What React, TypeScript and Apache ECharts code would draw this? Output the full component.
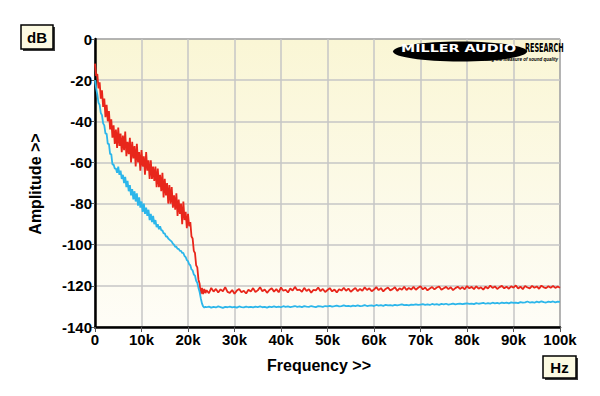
import React, { useEffect, useRef } from "react";
import * as echarts from "echarts";

// Frequency grid (Hz): dense steps below 24 kHz, coarser steps for the noise floor
const HEAD_STEP_HZ = 250;
const TAIL_START_HZ = 24000;
const TAIL_STEP_HZ = 500;

// Red trace, 0 – 23.75 kHz every 0.25 kHz (dB)
const redHead = [
  -12, -18, -17, -24, -21, -29, -25, -33,
  -29, -38, -32, -40, -35, -44, -39, -48,
  -42, -51, -44, -53, -43, -52, -46, -55,
  -47, -54, -45, -57, -50, -56, -48, -60,
  -50, -58, -52, -62, -51, -60, -55, -64,
  -54, -62, -57, -66, -55, -64, -59, -68,
  -59, -68, -62, -69, -62, -72, -63, -72,
  -66, -74, -65, -77, -68, -76, -70, -80,
  -71, -80, -72, -82, -76, -83, -75, -86,
  -78, -85, -80, -90, -79, -88, -84, -92,
  -85, -91, -89, -96, -97, -103, -104, -110,
  -111, -117, -119, -124, -121, -124, -121.5, -123.5,
];

// Red trace, 24 – 100 kHz every 0.5 kHz (dB)
const redTail = [
  -122.1, -123.6, -121.0, -122.8, -121.5, -123.2, -121.7, -122.6, -120.6, -122.9,
  -123.4, -122.0, -123.8, -122.3, -121.5, -123.1, -122.4, -123.7, -121.9, -122.7,
  -121.1, -123.0, -122.2, -120.7, -122.6, -121.8, -123.4, -122.0, -121.2, -122.8,
  -121.6, -123.1, -120.8, -122.4, -121.9, -123.2, -121.3, -122.3, -120.5, -122.1,
  -121.8, -122.9, -121.0, -122.5, -121.6, -123.3, -121.9, -122.2, -120.8, -122.6,
  -121.5, -123.0, -122.0, -121.1, -122.7, -121.8, -123.2, -121.6, -122.3, -120.9,
  -122.4, -121.3, -122.9, -121.9, -121.0, -122.6, -121.5, -122.4, -120.7, -122.0,
  -121.2, -122.6, -121.8, -120.6, -122.1, -121.1, -122.7, -121.5, -120.8, -122.2,
  -121.6, -120.7, -122.4, -121.2, -121.9, -120.4, -122.0, -121.0, -121.8, -120.5,
  -121.9, -120.9, -120.2, -121.7, -120.8, -122.2, -121.3, -120.6, -121.7, -120.8,
  -120.3, -121.9, -121.2, -120.5, -121.6, -120.7, -122.1, -121.1, -120.4, -121.5,
  -120.6, -121.7, -120.1, -121.2, -120.5, -121.6, -120.2, -121.4, -120.7, -121.8,
  -120.4, -121.3, -119.9, -121.0, -120.3, -121.5, -120.6, -120.0, -121.2, -120.4,
  -121.4, -120.2, -120.9, -119.8, -121.3, -120.4, -121.6, -120.1, -120.8, -121.2,
  -120.0, -120.9, -120.3, -121.4, -119.9, -120.7, -121.1, -120.2, -120.9, -120.1,
  -121.0, -120.3, -120.9,
];

// Blue trace, 0 – 23.75 kHz every 0.25 kHz (dB)
const blueHead = [
  -20, -24, -27, -31, -32, -36, -37, -41,
  -42, -46, -46, -51, -51, -56, -56, -61,
  -61, -63, -63, -65, -62, -66, -64, -68,
  -66, -70, -67, -72, -69, -74, -71, -76,
  -73, -78, -74, -79, -75, -81, -77, -82,
  -79, -84, -80, -85, -82, -86, -83, -88,
  -85, -89, -86, -90, -88, -91.5, -90, -92.5,
  -91, -93, -93, -94.5, -94.5, -96, -96, -97,
  -97.5, -98, -98.5, -99.5, -100, -101, -101, -102,
  -102, -103, -103, -104, -104, -105.5, -106, -107.5,
  -108, -109.5, -110, -112, -112.5, -114.5, -115, -117.5,
  -118.5, -121, -123, -126, -128.5, -130, -130.5, -130.2,
];

// Blue trace, 24 – 100 kHz every 0.5 kHz (dB)
const blueTail = [
  -130.4, -130.1, -130.6, -130.2, -130.5, -130.0, -130.3, -130.7, -130.2, -130.4,
  -130.1, -130.5, -130.2, -130.6, -130.0, -130.3, -130.5, -130.1, -130.4, -130.2,
  -130.5, -130.1, -130.3, -130.0, -130.4, -130.2, -130.6, -130.1, -130.3, -130.0,
  -130.3, -130.1, -130.4, -129.9, -130.2, -130.0, -130.3, -130.1, -129.8, -130.2,
  -130.0, -130.3, -129.9, -130.1, -130.2, -129.8, -130.1, -130.3, -129.9, -130.0,
  -130.2, -129.8, -130.0, -129.7, -130.1, -129.9, -129.6, -130.0, -129.8, -129.5,
  -129.9, -129.7, -130.0, -129.6, -129.8, -129.5, -129.9, -129.7, -129.4, -129.8,
  -129.6, -129.5, -129.8, -129.3, -129.6, -129.4, -129.7, -129.2, -129.5, -129.4,
  -129.6, -129.2, -129.5, -129.3, -129.0, -129.4, -129.2, -129.5, -129.1, -129.3,
  -129.0, -129.3, -129.1, -128.9, -129.2, -129.0, -129.3, -128.8, -129.1, -128.9,
  -129.2, -128.8, -129.0, -128.7, -129.1, -128.9, -128.6, -129.0, -128.8, -128.6,
  -128.9, -128.7, -128.5, -128.8, -128.6, -128.9, -128.4, -128.7, -128.5, -128.3,
  -128.7, -128.4, -128.6, -128.2, -128.5, -128.3, -128.6, -128.1, -128.4, -128.2,
  -128.5, -128.0, -128.3, -128.1, -128.4, -127.9, -128.2, -128.0, -127.6, -128.1,
  -127.9, -128.2, -127.7, -128.0, -127.5, -127.9, -128.1, -127.7, -127.9, -127.6,
  -128.0, -127.7, -127.8,
];

const Y_MIN = -140;
const Y_MAX = 0;
const Y_STEP = 20;
const X_MIN = 0;
const X_MAX = 100000;
const X_STEP = 10000;

function toPairs(head: number[], tail: number[]): [number, number][] {
  const out: [number, number][] = [];
  head.forEach((v, i) => out.push([i * HEAD_STEP_HZ, v]));
  tail.forEach((v, i) => out.push([TAIL_START_HZ + i * TAIL_STEP_HZ, v]));
  return out;
}

const FONT = "'Liberation Sans', Arial, Helvetica, sans-serif";

export default function App() {
  const ref = useRef<HTMLDivElement>(null);

  useEffect(() => {
    if (!ref.current) return;
    const chart = echarts.init(ref.current, undefined, { renderer: "svg" });

    const axisLabel = {
      fontSize: 15,
      fontWeight: "bold" as const,
      color: "#000",
      fontFamily: FONT,
    };

    chart.setOption({
      animation: false,
      backgroundColor: "#ffffff",
      grid: {
        left: 95,
        right: 40,
        top: 39,
        bottom: 69,
        show: true,
        borderColor: "#000",
        borderWidth: 1,
        backgroundColor: new echarts.graphic.LinearGradient(0, 1, 0, 0, [
          { offset: 0, color: "#fefdf7" },
          { offset: 1, color: "#faf6d5" },
        ]),
      },
      xAxis: {
        type: "value",
        min: X_MIN,
        max: X_MAX,
        interval: X_STEP,
        axisLine: { show: true, onZero: false, lineStyle: { color: "#000", width: 2.5 } },
        axisTick: { show: true, length: 5, lineStyle: { color: "#555", width: 1 } },
        axisLabel: {
          ...axisLabel,
          margin: 5,
          formatter: (v: number) => (v === 0 ? "0" : `${v / 1000}k`),
        },
        splitLine: { show: true, lineStyle: { color: "#c6c6c6", width: 1.5 } },
      },
      yAxis: {
        type: "value",
        min: Y_MIN,
        max: Y_MAX,
        interval: Y_STEP,
        axisLine: { show: true, onZero: false, lineStyle: { color: "#000", width: 2.5 } },
        axisTick: { show: true, length: 5, lineStyle: { color: "#555", width: 1 } },
        axisLabel: { ...axisLabel, margin: 3 },
        splitLine: { show: true, lineStyle: { color: "#c6c6c6", width: 1.5 } },
      },
      series: [
        {
          type: "line",
          data: toPairs(redHead, redTail),
          showSymbol: false,
          silent: true,
          lineStyle: { color: "#e8261b", width: 1.8 },
          z: 3,
        },
        {
          type: "line",
          data: toPairs(blueHead, blueTail),
          showSymbol: false,
          silent: true,
          lineStyle: { color: "#2cb6ea", width: 1.8 },
          z: 4,
        },
      ],
      graphic: [
        // dB box
        { type: "rect", shape: { x: 23, y: 27, width: 32, height: 24 }, style: { fill: "#3a3a3a" }, z: 10 },
        { type: "rect", shape: { x: 21, y: 25, width: 32, height: 24 }, style: { fill: "#fcfae2", stroke: "#000", lineWidth: 1.5 }, z: 11 },
        { type: "text", x: 37, y: 37.5, style: { text: "dB", fill: "#000", font: `bold 15px ${FONT}`, align: "center", verticalAlign: "middle" }, z: 12 },
        // Hz box
        { type: "rect", shape: { x: 545, y: 358, width: 33, height: 22 }, style: { fill: "#3a3a3a" }, z: 10 },
        { type: "rect", shape: { x: 543, y: 356, width: 33, height: 22 }, style: { fill: "#fcfae2", stroke: "#000", lineWidth: 1.5 }, z: 11 },
        { type: "text", x: 559.5, y: 367.5, style: { text: "Hz", fill: "#000", font: `bold 15px ${FONT}`, align: "center", verticalAlign: "middle" }, z: 12 },
        // Axis titles
        { type: "text", x: 35.5, y: 184, rotation: Math.PI / 2, style: { text: "Amplitude >>", fill: "#000", font: `bold 16px ${FONT}`, align: "center", verticalAlign: "middle" }, z: 12 },
        { type: "text", x: 319, y: 365, style: { text: "Frequency >>", fill: "#000", font: `bold 16px ${FONT}`, align: "center", verticalAlign: "middle" }, z: 12 },
        // Logo
        { type: "ellipse", shape: { cx: 460, cy: 51.5, rx: 67, ry: 10 }, style: { fill: "#000" }, z: 12 },
        { type: "text", x: 401, y: 48, scaleX: 1.3, style: { text: "MILLER AUDIO", fill: "#fff", font: `900 11px 'DejaVu Sans', sans-serif`, align: "left", verticalAlign: "middle" }, z: 13 },
        { type: "text", x: 525, y: 48, scaleX: 0.54, style: { text: "RESEARCH", fill: "#000", font: `900 12px 'DejaVu Sans', sans-serif`, align: "left", verticalAlign: "middle" }, z: 13 },
        { type: "text", x: 558, y: 59, style: { text: "Getting the measure of sound quality", fill: "#000", font: `italic bold 4.5px ${FONT}`, align: "right", verticalAlign: "middle" }, z: 13 },
      ],
    });

    return () => chart.dispose();
  }, []);

  return (
    <div
      ref={ref}
      style={{ position: "absolute", left: 0, top: 0, width: 600, height: 396 }}
    />
  );
}
